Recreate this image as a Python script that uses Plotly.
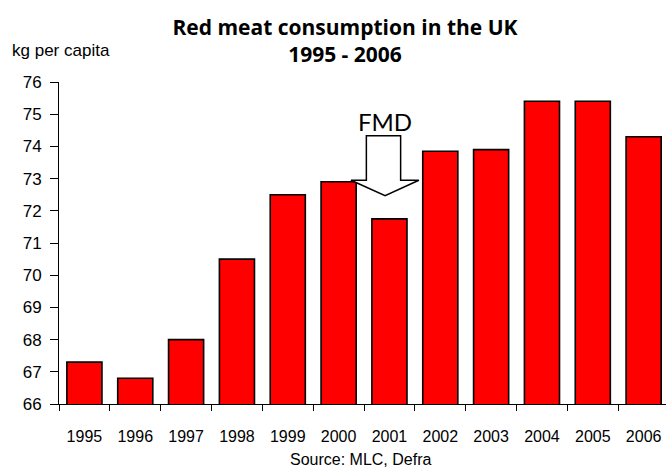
import plotly.graph_objects as go

years = ["1995", "1996", "1997", "1998", "1999", "2000", "2001", "2002", "2003", "2004", "2005", "2006"]
consumption = [67.3, 66.8, 68.0, 70.5, 72.5, 72.9, 71.75, 73.85, 73.9, 75.4, 75.4, 74.3]
y_ticks = [66, 67, 68, 69, 70, 71, 72, 73, 74, 75, 76]

idx = list(range(len(years)))
W, H = 666, 468
L, R, T, B = 59, 0, 82, 64
PW, PH = W - L - R, H - T - B

fig = go.Figure()
fig.add_trace(go.Bar(
    x=idx, y=consumption,
    marker=dict(color="#ff0000", line=dict(color="black", width=1.6)),
    width=0.69,
))

# FMD arrow (2001 = index 6)
c = 6
ax0, ax1 = c - 0.454, c + 0.22
hx0, hx1 = c - 0.757, c + 0.578
tx = c - 0.085
ytop, ybase, ytip = 74.33, 72.95, 72.47
path = (f"M {ax0} {ytop} L {ax1} {ytop} L {ax1} {ybase} L {hx1} {ybase} "
        f"L {tx} {ytip} L {hx0} {ybase} L {ax0} {ybase} Z")
fig.add_shape(type="path", path=path, xref="x", yref="y",
              fillcolor="white", line=dict(color="black", width=1.5), layer="above")
fig.add_annotation(x=tx, y=ytop, xref="x", yref="y", text="FMD", showarrow=False,
                   yanchor="bottom", yshift=-2,
                   font=dict(family="Lato", size=24, color="black"))

fig.add_annotation(x=(10 - L) / PW, y=1 + (T - 50) / PH, xref="paper", yref="paper",
                   text="kg per capita", showarrow=False, xanchor="left", yanchor="middle",
                   font=dict(family="Liberation Sans", size=17, color="black"))

fig.add_annotation(x=(360 - L) / PW, y=-(460 - (H - B)) / PH, xref="paper", yref="paper",
                   text="Source: MLC, Defra", showarrow=False,
                   xanchor="center", yanchor="middle",
                   font=dict(family="Liberation Sans", size=16, color="black"))

fig.update_layout(
    width=W, height=H,
    margin=dict(l=L, r=R, t=T, b=B),
    paper_bgcolor="white", plot_bgcolor="white",
    showlegend=False,
    title=dict(text="<b>Red meat consumption in the UK<br>1995 - 2006</b>",
               x=345 / W, xanchor="center", xref="container",
               y=1 - 35 / H, yanchor="middle", yref="container",
               font=dict(family="Open Sans", size=21, color="black")),
    font=dict(family="Liberation Sans", size=16, color="black"),
)
fig.update_xaxes(
    range=[-0.5, 11.44], tickmode="array", tickvals=idx, ticktext=years,
    ticks="", showgrid=False, zeroline=False,
    showline=True, linecolor="black", linewidth=1,
    ticklabelstandoff=18, tickfont=dict(size=16),
    minor=dict(tickmode="array", tickvals=[i - 0.5 for i in range(len(years) + 1)],
               ticks="outside", ticklen=6, tickcolor="black", tickwidth=1, showgrid=False),
)
fig.update_yaxes(
    range=[66, 76], tickmode="array", tickvals=y_ticks,
    ticks="outside", ticklen=8, tickcolor="black", showgrid=False, zeroline=False,
    showline=True, linecolor="black", linewidth=1,
    ticklabelstandoff=5, tickfont=dict(size=17),
)

fig.write_html("out.html")
